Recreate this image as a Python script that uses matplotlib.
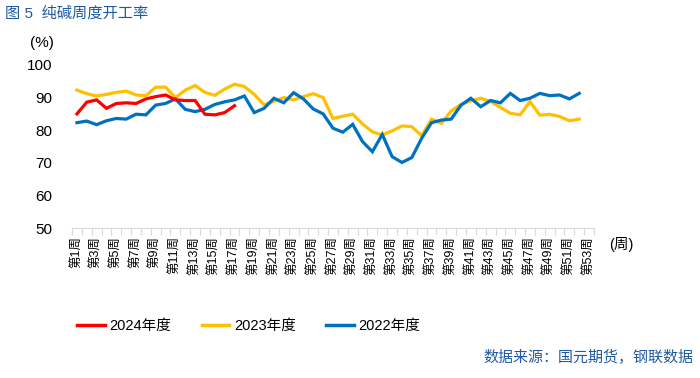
import numpy as np
import matplotlib
matplotlib.use('Agg')
import matplotlib.pyplot as plt
from matplotlib.lines import Line2D

# =====================================================================
# DATOS
# =====================================================================
semanas = np.arange(1, 54)
etiquetas = [f'第{s}周' if s % 2 == 1 else '' for s in semanas]

y2024 = [85.0, 88.6, 89.3, 86.7, 88.2, 88.4, 88.2, 89.6, 90.3, 90.8,
         89.3, 89.1, 89.1, 84.9, 84.7, 85.4, 87.5]

y2023 = [92.3, 91.2, 90.5, 91.0, 91.6, 92.0, 90.8, 90.6, 93.2, 93.2,
         90.0, 92.3, 93.7, 91.6, 90.7, 92.6, 94.1, 93.4, 91.0, 87.8,
         88.9, 90.0, 89.3, 90.3, 91.2, 90.0, 83.6, 84.3, 84.9, 81.9,
         79.5, 78.5, 79.8, 81.3, 81.1, 78.3, 83.4, 82.1, 85.9, 87.9,
         89.0, 89.8, 88.8, 87.0, 85.2, 84.7, 88.8, 84.6, 84.9, 84.2,
         82.9, 83.4]

y2022 = [82.3, 82.8, 81.7, 82.9, 83.6, 83.4, 84.9, 84.7, 87.7, 88.2,
         89.6, 86.4, 85.7, 86.4, 87.9, 88.7, 89.3, 90.5, 85.4, 86.7,
         89.8, 88.4, 91.5, 89.6, 86.5, 85.0, 80.6, 79.4, 81.8, 76.5,
         73.4, 78.7, 71.9, 70.1, 71.6, 77.5, 82.3, 83.1, 83.4, 87.7,
         89.8, 87.2, 89.1, 88.4, 91.3, 89.1, 89.8, 91.3, 90.6, 90.8,
         89.6, 91.3]

ROJO, AMARILLO, AZUL = '#FF0000', '#FFC000', '#0070C0'
AZUL_TXT = '#1F5AA0'
FUENTE = ['Liberation Sans', 'Noto Sans CJK SC']
plt.rcParams['font.family'] = FUENTE

# =====================================================================
# FIGURA
# =====================================================================
fig = plt.figure(figsize=(7, 3.78), dpi=100, facecolor='white')
ax = fig.add_axes([72 / 700, 150 / 378, 522 / 700, 163 / 378])

ax.plot(semanas[:len(y2023)], y2023, color=AMARILLO, lw=2.3, zorder=2,
        solid_joinstyle='miter')
ax.plot(semanas[:len(y2022)], y2022, color=AZUL, lw=2.3, zorder=3,
        solid_joinstyle='miter')
ax.plot(semanas[:len(y2024)], y2024, color=ROJO, lw=2.3, zorder=4,
        solid_joinstyle='miter')

ax.set_xlim(0.5, 53.5)
ax.set_ylim(50, 100)
ax.set_yticks(range(50, 101, 10))
ax.tick_params(axis='y', length=0, labelsize=11, pad=14)

ax.set_xticks(semanas)
ax.set_xticklabels(etiquetas, rotation=90, fontsize=9)
ax.tick_params(axis='x', length=0, pad=6)
ax.set_xticks(np.arange(0.5, 54, 1), minor=True)
ax.tick_params(axis='x', which='minor', length=5, color='#D9D9D9', width=0.8)

for lado in ['top', 'right', 'left']:
    ax.spines[lado].set_visible(False)
ax.spines['bottom'].set_color('#D9D9D9')
ax.spines['bottom'].set_linewidth(0.8)

# Textos
fig.text(5 / 700, 1 - 14 / 378, '图 5  纯碱周度开工率', fontsize=11,
         color=AZUL_TXT, va='center', ha='left')
fig.text(30 / 700, 1 - 43 / 378, '(%)', fontsize=11, va='center', ha='left')
fig.text(609 / 700, 1 - 245 / 378, '(周)', fontsize=10.5, va='center', ha='left')
fig.text(693 / 700, 1 - 357 / 378, '数据来源：国元期货，钢联数据', fontsize=10.8,
         color=AZUL_TXT, va='center', ha='right')

# Leyenda
handles = [Line2D([], [], color=ROJO, lw=2.5),
           Line2D([], [], color=AMARILLO, lw=2.5),
           Line2D([], [], color=AZUL, lw=2.5)]
fig.legend(handles, ['2024年度', '2023年度', '2022年度'], ncol=3,
           loc='center left', bbox_to_anchor=(64 / 700, 1 - 326 / 378),
           frameon=False, fontsize=10.5, handlelength=1.9,
           handletextpad=0.3, columnspacing=2.1)

plt.savefig('out.png', dpi=100, facecolor='white')
